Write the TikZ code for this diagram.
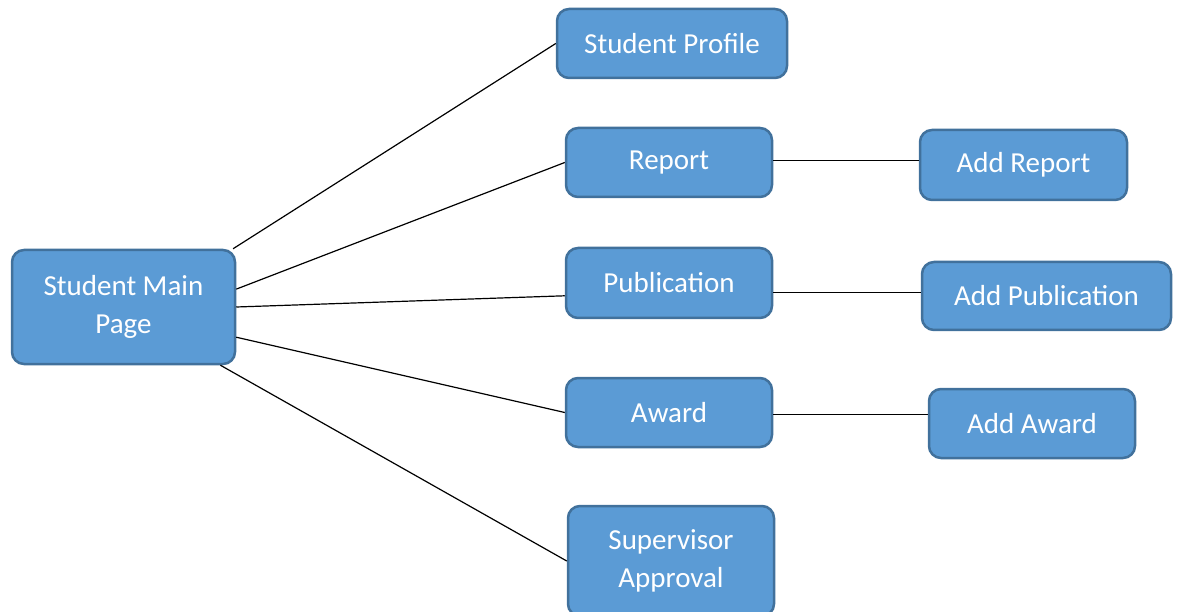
\documentclass[tikz,border=0pt]{standalone}
\usepackage{fontspec}
\setmainfont{Carlito}
\usetikzlibrary{calc}
\definecolor{boxfill}{HTML}{5B9BD5}
\definecolor{boxline}{HTML}{41719C}

\begin{document}
\begin{tikzpicture}[x=1pt,y=-1pt,
	page/.style={draw=boxline, fill=boxfill, line width=2.5pt, rounded corners=12pt,
		text=white, align=center, font=\fontsize{29}{38}\selectfont, inner sep=0pt,
		minimum width=206pt, minimum height=69pt},
	link/.style={line width=1.2pt}]

		\useasboundingbox (0,0) rectangle (1178,612);

		% main page and the pages under it
		\node [page, minimum width=223pt, minimum height=114pt] (main) at (123.5,307) {Student Main\\Page};
		\node [page, minimum width=230pt] (profile) at (672,43.5) {Student Profile};
		\node [page] (report) at (669,162.5) {Report};
		\node [page, minimum height=70pt] (pub) at (669,283) {Publication};
		\node [page] (award) at (669,412.5) {Award};
		\node [page, minimum height=110pt] (super) at (671,561) {Supervisor\\Approval};

		% add pages
		\node [page, minimum width=207pt, minimum height=70pt] (addreport) at (1023.5,165) {Add Report};
		\node [page, minimum width=249pt, minimum height=68pt] (addpub) at (1046.5,296) {Add Publication};
		\node [page] (addaward) at (1032,423.5) {Add Award};

		\draw [link] (main.28) -- (profile.west);
		\draw [link] (main.9) -- (report.west);
		\draw [link] (main.0) -- (pub.187);
		\draw [link] (main.-15) -- (award.west);
		\draw [link] (main.-31) -- (super.west);

		\draw [link] (report.1.4) -- (report.1.4 -| addreport.west);
		\draw [link] (pub.-5) -- (pub.-5 -| addpub.west);
		\draw [link] (award.-1.4) -- (award.-1.4 -| addaward.west);
\end{tikzpicture}
\end{document}
